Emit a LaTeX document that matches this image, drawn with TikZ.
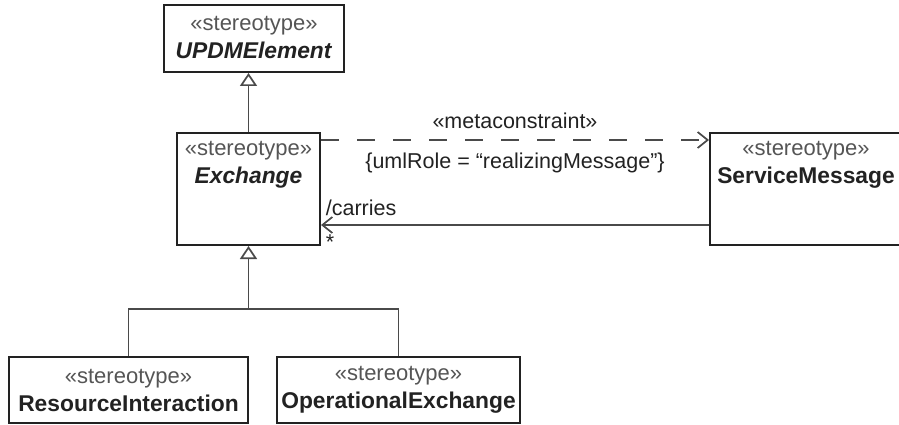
\documentclass[tikz,border=0pt]{standalone}
\usepackage{fontspec}
\setmainfont{Liberation Sans}
\usepackage{xcolor}
\usepackage{tikz}
\usetikzlibrary{arrows.meta}
\usetikzlibrary{positioning}

\definecolor{umlline}{HTML}{4A4A4A}
\definecolor{umlink}{HTML}{222222}
\definecolor{stereogray}{HTML}{555555}
\newcommand{\stereo}{{\color{stereogray}«stereotype»}}
\newcommand{\cname}[1]{{\fontsize{22.8}{28}\selectfont\textbf{#1}}}

\begin{document}
\begin{tikzpicture}[x=1pt,y=-1pt,
    classbox/.style={draw=umlink,line width=2pt,fill=white,inner sep=0pt},
    classtext/.style={align=center,font=\fontsize{22}{28}\selectfont,text=umlink,inner sep=0pt},
    gen/.style={draw=umlline,line width=1.7pt,-{Triangle[open,length=13pt,width=17pt,fill=white]}},
    link/.style={draw=umlline,line width=1.7pt},
    assoc/.style={link,-{Straight Barb[length=10pt,width=16pt]}},
    dep/.style={assoc,dash pattern=on 18pt off 18pt},
    lbl/.style={font=\fontsize{21.5}{24}\selectfont,text=umlink,inner sep=0pt}]
  \useasboundingbox (0,0) rectangle (899,425);

  % classes
  \node[classbox, minimum width=180pt, minimum height=67pt] (updm) at (254,38.5) {};
  \node[classtext] (updm-t) at ([yshift=-34pt]updm.north) {\stereo\\\cname{\textit{UPDMElement}}};
  \node[classbox, minimum width=143pt, minimum height=112pt] (exch) at (248.5,189) {};
  \node[classtext] (exch-t) at ([yshift=-33pt]exch.north) {\stereo\\\cname{\textit{Exchange}}};
  \node[classbox, minimum width=192pt, minimum height=112pt] (svc) at (806,189) {};
  \node[classtext] (svc-t) at ([yshift=-33pt]svc.north) {\stereo\\\cname{ServiceMessage}};
  \node[classbox, minimum width=239pt, minimum height=66pt] (res) at (128.5,390) {};
  \node[classtext] (res-t) at ([yshift=-34pt]res.north) {\stereo\\\cname{ResourceInteraction}};
  \node[classbox, minimum width=243pt, minimum height=66pt] (opx) at (398.5,390) {};
  \node[classtext] (opx-t) at ([yshift=-34pt]opx.north) {\stereo\\\cname{OperationalExchange}};

  % generalizations
  \draw[gen] (exch.north) -- (exch.north |- updm.south);
  \coordinate (fork) at (exch.south |- 0,309);
  \draw[link] (res.north) |- (fork) -| (opx.north);
  \draw[gen] (fork) -- (exch.south);

  % metaconstraint
  \draw[dep] ([yshift=-8pt]exch.north east) --
    node[lbl, above=10pt] (mc) {«metaconstraint»}
    node[lbl, below=12pt] (role) {\{umlRole = “realizingMessage”\}}
    ([yshift=-8pt]svc.north west);

  % association
  \draw[assoc] ([yshift=21pt]svc.south west) -- ([yshift=21pt]exch.south east)
    node[lbl, at end, above right=8pt and 4pt] (carries) {/carries}
    node[lbl, at end, below right=9pt and 4pt] (mult) {*};
\end{tikzpicture}
\end{document}
